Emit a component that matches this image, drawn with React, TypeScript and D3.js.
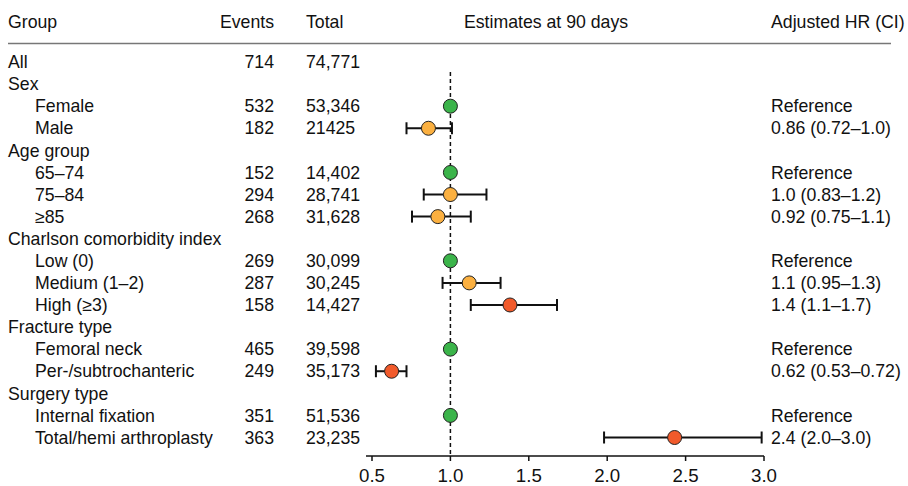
import React from "react";
import * as d3 from "d3";

const labels = [
  "All", "Sex", "Female", "Male", "Age group", "65–74", "75–84", "≥85",
  "Charlson comorbidity index", "Low (0)", "Medium (1–2)", "High (≥3)",
  "Fracture type", "Femoral neck", "Per-/subtrochanteric",
  "Surgery type", "Internal fixation", "Total/hemi arthroplasty",
];
const indented = [false, false, true, true, false, true, true, true, false, true, true, true, false, true, true, false, true, true];
const events = ["714", "", "532", "182", "", "152", "294", "268", "", "269", "287", "158", "", "465", "249", "", "351", "363"];
const totals = ["74,771", "", "53,346", "21425", "", "14,402", "28,741", "31,628", "", "30,099", "30,245", "14,427", "", "39,598", "35,173", "", "51,536", "23,235"];
const hrText = ["", "", "Reference", "0.86 (0.72–1.0)", "", "Reference", "1.0 (0.83–1.2)", "0.92 (0.75–1.1)", "", "Reference", "1.1 (0.95–1.3)", "1.4 (1.1–1.7)", "", "Reference", "0.62 (0.53–0.72)", "", "Reference", "2.4 (2.0–3.0)"];
const est: (number | null)[] = [null, null, 1.0, 0.86, null, 1.0, 1.0, 0.92, null, 1.0, 1.12, 1.38, null, 1.0, 0.625, null, 1.0, 2.43];
const lo: (number | null)[] = [null, null, null, 0.72, null, null, 0.83, 0.755, null, null, 0.95, 1.13, null, null, 0.525, null, null, 1.98];
const hi: (number | null)[] = [null, null, null, 1.01, null, null, 1.23, 1.13, null, null, 1.32, 1.68, null, null, 0.72, null, null, 2.985];
const colorKey = ["", "", "ref", "low", "", "ref", "low", "low", "", "ref", "low", "high", "", "ref", "high", "", "ref", "high"];
const xTicks = [0.5, 1.0, 1.5, 2.0, 2.5, 3.0];

const colors: Record<string, string> = { ref: "#3bb44a", low: "#fbb040", high: "#f15a2b" };

export default function App() {
  const W = 908, H = 486;
  const x = d3.scaleLinear().domain([0.5, 3.0]).range([372, 764]);
  const y = d3.scaleLinear().domain([0, labels.length - 1]).range([62, 437.5]);
  const axisY = 456;
  const font = "'Liberation Sans', Arial, Helvetica, sans-serif";
  const fs = 17.7;
  return (
    <svg width={W} height={H} style={{ position: "absolute", left: 0, top: 0, background: "#fff" }} fontFamily={font} fontSize={fs} fill="#111">
      {/* header */}
      <text x={8} y={22} dy="0.35em">Group</text>
      <text x={274} y={22} dy="0.35em" textAnchor="end">Events</text>
      <text x={306} y={22} dy="0.35em">Total</text>
      <text x={546} y={22} dy="0.35em" textAnchor="middle">Estimates at 90 days</text>
      <text x={771} y={22} dy="0.35em">Adjusted HR (CI)</text>
      <line x1={8} x2={891} y1={43.5} y2={43.5} stroke="#777" strokeWidth={1.3} />
      {/* reference line */}
      <line x1={x(1)} x2={x(1)} y1={72} y2={axisY - 2} stroke="#111" strokeWidth={1.5} strokeDasharray="4,3" />
      {labels.map((l, i) => (
        <g key={i}>
          <text x={indented[i] ? 35 : 8} y={y(i)} dy="0.35em">{l}</text>
          {events[i] && <text x={274} y={y(i)} dy="0.35em" textAnchor="end">{events[i]}</text>}
          {totals[i] && <text x={306} y={y(i)} dy="0.35em">{totals[i]}</text>}
          {hrText[i] && <text x={771} y={y(i)} dy="0.35em">{hrText[i]}</text>}
        </g>
      ))}
      {/* CI bars */}
      {labels.map((_, i) => (lo[i] != null && hi[i] != null ? (
        <g key={"ci" + i} stroke="#111" strokeWidth={2}>
          <line x1={x(lo[i] as number)} x2={x(hi[i] as number)} y1={y(i)} y2={y(i)} />
          <line x1={x(lo[i] as number)} x2={x(lo[i] as number)} y1={y(i) - 6} y2={y(i) + 6} />
          <line x1={x(hi[i] as number)} x2={x(hi[i] as number)} y1={y(i) - 6} y2={y(i) + 6} />
        </g>
      ) : null))}
      {labels.map((_, i) => (est[i] != null ? (
        <circle key={"pt" + i} cx={x(est[i] as number)} cy={y(i)} r={7} fill={colors[colorKey[i]]} stroke="#222" strokeWidth={1} />
      ) : null))}
      {/* axis */}
      <line x1={366} x2={764} y1={axisY} y2={axisY} stroke="#111" strokeWidth={1.5} />
      {xTicks.map((t) => (
        <g key={t}>
          <line x1={x(t)} x2={x(t)} y1={axisY} y2={axisY + 5} stroke="#111" strokeWidth={1.5} />
          <text x={x(t)} y={axisY + 19} dy="0.35em" textAnchor="middle" fontSize={18.7}>{t.toFixed(1)}</text>
        </g>
      ))}
    </svg>
  );
}
